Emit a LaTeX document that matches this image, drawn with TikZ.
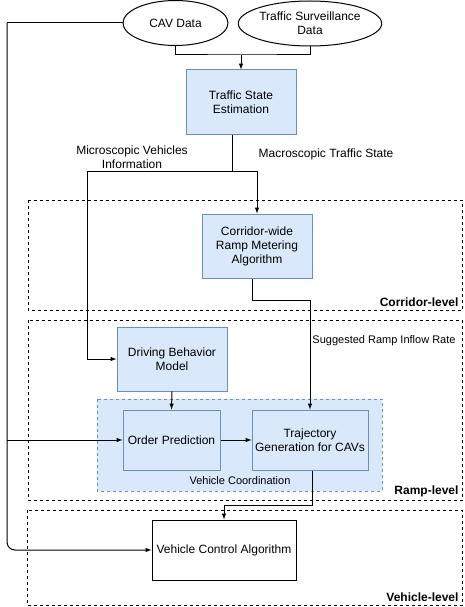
\documentclass[tikz,border=0pt]{standalone}
\usepackage{fontspec}
\setmainfont{Liberation Sans}
\usetikzlibrary{calc,positioning,shapes.geometric,arrows.meta}

\definecolor{bluefill}{HTML}{DAE8FC}
\definecolor{blueline}{HTML}{6C8EBF}

\begin{document}
\begin{tikzpicture}[x=1pt,y=-1pt,line width=1pt,
	txt/.style={font=\fontsize{12}{14}\selectfont,align=center,inner sep=0pt},
	small/.style={font=\fontsize{11}{13}\selectfont,align=center,inner sep=0pt},
	lvl/.style={font=\bfseries\fontsize{12}{14}\selectfont,anchor=south east,inner sep=0pt},
	blk/.style={txt,draw=blueline,fill=bluefill},
	src/.style={txt,draw,ellipse,inner sep=0pt},
	frame/.style={draw,dashed,line width=0.8pt}]
	\useasboundingbox (0,0) rectangle (464,607);

	%level frames
	\draw[frame] (28,200) rectangle (462.5,310);	%corridor
	\draw[frame] (28,320) rectangle (462.5,500);	%ramp
	\draw[frame] (27,510) rectangle (462.5,605);	%vehicle
		\node[lvl] (corlvl) at (459,307) {Corridor-level};
		\node[lvl] (ramplvl) at (459,497) {Ramp-level};
		\node[lvl] (vehlvl) at (459,602) {Vehicle-level};

	%vehicle coordination group
	\draw[fill=bluefill,draw=blueline,dashed,line width=0.8pt] (97,399) rectangle (382,491);
		\node[small] (vcoord) at (240,481) {Vehicle Coordination};

	%data sources
	\node[src,minimum width=105pt,minimum height=45pt] (cav) at (175.5,23) {CAV Data};
	\node[src,minimum width=130pt,minimum height=45pt] (tsd) at (310,23.5) {Traffic Surveillance\\Data};

	%blocks
	\node[blk,minimum width=110pt,minimum height=64pt] (tse) at (241,102) {Traffic State\\Estimation};
	\node[blk,minimum width=110pt,minimum height=64pt] (crd) at (257,246) {Corridor-wide\\Ramp Metering\\Algorithm};
	\node[blk,minimum width=110pt,minimum height=64pt] (dbm) at (172,359) {Driving Behavior\\Model};
	\node[blk,minimum width=97pt,minimum height=60pt] (ord) at (171.5,440) {Order Prediction};
	\node[blk,minimum width=116pt,minimum height=60pt] (trj) at (310,440) {Trajectory\\Generation for CAVs};
	\node[txt,draw,fill=white,minimum width=144pt,minimum height=60pt] (vca) at (224,550) {Vehicle Control Algorithm};

	%captions
	\node[txt] (micro) at (132,157.5) {Microscopic Vehicles\\Information};
	\node[txt] (macro) at (326,154) {Macroscopic Traffic State};
	\node[small] (inflow) at (384,341) {Suggested Ramp Inflow Rate};

	%junctions
	\coordinate (j1) at (241,55);
	\coordinate (j2) at (232,171);
	\coordinate (j3) at (87,171);
	\coordinate (l1) at (7,23);

	%connectors
	\draw (cav.south) |- (j1) -| (tsd.south);
	\draw[->,>=latex] (j1) -- (tse.north);
	\draw (j2 |- tse.south) -- (j2);
	\draw[->,>=latex] (j2) -| (crd.north);
	\draw[->,>=latex] (j2) -- (j3) |- (dbm.west);
	\draw[->,>=latex] ($(crd.south)+(-5,0)$) -- ++(0,22) -| (trj.north);
	\draw[->,>=latex] (dbm.south) -- (ord.north);
	\draw[->,>=latex] (ord.east) -- (trj.west);
	\draw[->,>=latex] ($(trj.south)+(2,0)$) -- ++(0,35) -| (vca.north);
	\draw (cav.west) -- (l1);
	\draw[->,>=latex,rounded corners=8pt] (l1) |- (vca.west);
	\draw[->,>=latex] (l1 |- ord.west) -- (ord.west);

	%\draw[help lines,step=10pt] (0,0) grid (464,607);
\end{tikzpicture}
\end{document}
